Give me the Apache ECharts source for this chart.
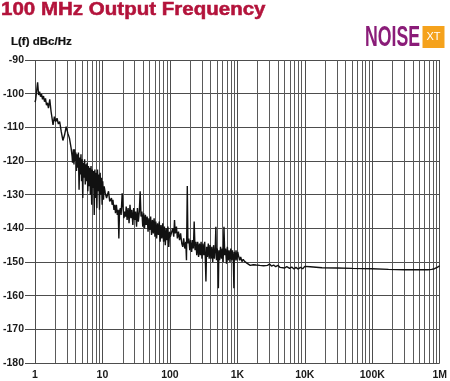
<!DOCTYPE html>
<html>
<head>
<meta charset="utf-8">
<script src="https://cdn.jsdelivr.net/npm/echarts@6/dist/echarts.min.js"></script>
<style>
html,body{margin:0;padding:0;background:#fff;}
#chart{width:450px;height:381px;}
</style>
</head>
<body>
<div id="chart"></div>
<script>
// ---- data ----
const freqs = [
  1.0, 1.02, 1.093, 1.13, 1.169, 1.208, 1.25, 1.293, 1.337, 1.383, 1.43, 1.479, 1.53, 1.582, 1.655, 1.73, 1.79, 1.85, 1.937, 2.02, 2.12, 2.22, 2.32, 2.45, 2.59, 2.74, 2.9, 3.07, 3.24, 3.43, 3.55,
  3.6, 3.7, 3.78, 3.86, 3.95, 4.03, 4.12, 4.2, 4.3, 4.4, 4.5, 4.6, 4.7, 4.8, 4.9, 5.0, 5.1, 5.2, 5.32, 5.44, 5.56, 5.68, 5.8, 5.93, 6.06, 6.2, 6.34, 6.48, 6.62, 6.77, 6.92, 7.07, 7.23, 7.39, 7.55, 7.72, 7.9, 8.08, 8.26, 8.45, 8.64, 8.84, 9.04, 9.24, 9.45, 9.67, 9.89, 10.1, 10.35, 10.6, 11.0,
  11.5, 11.8, 12.3, 12.8, 13.2, 13.6, 13.9, 14.3, 14.8, 15.2, 15.6, 16.1, 16.6, 17.1, 17.5, 17.9, 18.4, 18.9, 19.6, 20.2, 20.8, 21.4, 22.0,
  22.5, 23.2, 24.0, 24.8, 25.6, 26.4, 27.3, 28.2, 29.1, 30.0, 31.0, 32.0, 33.0, 34.0, 35.2, 36.2, 37.3, 38.4, 39.6, 40.8, 42.0, 43.3, 44.6, 46.0, 47.4, 48.8, 50.3, 51.8, 53.4, 55.0, 56.6, 58.3, 60.0, 61.8, 63.6, 65.5, 67.5, 69.5, 71.6, 73.7, 75.9, 78.2, 80.5, 82.9, 85.4, 88.0, 90.6, 93.3, 96.1, 99.0,
  101.5, 105, 110, 114, 117, 120, 125, 129, 134, 139, 144, 150, 155, 160, 166, 172, 176, 181, 185, 191, 197, 203, 210, 217, 223, 229, 236, 243, 250, 258, 266, 274, 282, 290, 299, 308, 318, 328, 335, 342, 350, 360, 371, 382, 394, 406, 418, 431, 444, 457, 470, 480, 490, 503, 515, 523, 532, 546, 563, 580, 597, 615, 633, 650, 670, 690, 711, 732, 754, 777, 800, 824, 848, 873, 888, 900, 927, 955, 984, 1013, 1045,
  1080, 1120, 1170, 1220, 1280, 1330, 1400, 1470, 1550, 1640, 1720, 1800, 1900, 2000, 2150, 2300, 2450, 2600, 2800, 3000, 3200, 3450, 3700, 4000, 4300, 4600, 5000, 5400, 5950, 6400, 6900, 7400, 8000, 8600, 9300, 9700, 10000,
  12000, 18000, 30000, 50000, 100000, 174000, 300000, 500000, 667000, 760000, 836000, 920000, 1000000
];
const levels = [
  -102.5, -101.9, -96.6, -100.4, -99.4, -100.9, -100.1, -101.7, -100.7, -102.4, -101.4, -103.4, -102.7, -104.3, -101.7, -105.3, -107.3, -109.3, -106.8, -108.3, -107.3, -109, -108.3, -111.3, -113.9, -112.3, -109.8, -111.8, -113.2, -116.2, -118.7,
  -120.5, -116.5, -121, -116.5, -120, -117.5, -123, -118, -122, -117.5, -128.5, -119, -124, -118, -126, -119.5, -131, -120.5, -125, -119.5, -127, -121, -126, -120.5, -129, -121.5, -127.5, -122, -130, -121.5, -133, -122.5, -128, -123, -136, -122.5, -131, -123.5, -134, -122.5, -129, -124, -134.5, -123.5, -130, -125, -133, -126, -131.5, -127.5, -129.5,
  -131, -130.6, -129, -132, -132.5, -131, -133, -131.5, -134.5, -133, -135.5, -133, -136, -134.5, -143, -135, -134, -136, -129.6, -134, -137, -135, -136.5,
  -133.5, -137.5, -134, -138.5, -133, -137, -134.5, -139, -134, -137.5, -135, -139.5, -134, -138, -135, -129, -136.5, -135, -139.5, -135.5, -140, -136, -139, -136.5, -141, -137, -140.5, -136.5, -142, -137.5, -141.5, -137, -142.5, -138, -143, -138.5, -142, -138, -144, -139, -143, -138.5, -144, -139.5, -145, -140, -143.5, -139.5, -145.5, -141,
  -142.5, -143, -140, -142.5, -137.5, -141.5, -139.5, -143, -141, -143.5, -141.5, -144.5, -145.5, -143, -146, -144, -149.5, -127.4, -144.5, -143, -146.5, -143.5, -147, -143.5, -146, -138, -146.5, -144, -148, -144, -148.5, -144.5, -148, -144, -149, -144.5, -148, -144, -149, -155.8, -145.5, -148.5, -144.5, -149, -145, -149, -145.5, -150, -145, -149, -146, -139.5, -149.5, -146, -150, -157.8, -146.5, -149.5, -145.5, -149, -146, -150, -139.5, -148, -146, -150.5, -145.5, -149.5, -146.5, -150, -146, -149.5, -146.5, -150, -157.8, -147, -149.5, -146.5, -149.5, -147, -148.3,
  -149.5, -148.5, -149.9, -149.2, -149.8, -149.4, -150.4, -150, -151, -151.5, -150.8, -150.3, -150.9, -150.5, -151, -150.6, -151.1, -150.7, -151, -150.6, -151.2, -150.9, -151.4, -151, -151.6, -151.2, -151.8, -151.4, -151.9, -151.5, -152.1, -151.6, -152.1, -151.6, -152, -151.5, -151.3,
  -151.4, -151.7, -151.8, -151.9, -152.0, -152.2, -152.3, -152.3, -152.3, -152.2, -152.0, -151.6, -151.1
];
const xTickValues = [1, 10, 100, 1000, 10000, 100000, 1000000];
const xTickLabels = ['1', '10', '100', '1K', '10K', '100K', '1M'];
const minorGridFreqs = [
  2, 3, 4, 5, 6, 7, 8, 9,
  20, 30, 40, 50, 60, 70, 80, 90,
  200, 300, 400, 500, 600, 700, 800, 900,
  2000, 3000, 4000, 5000, 6000, 7000, 8000, 9000,
  20000, 30000, 40000, 50000, 60000, 70000, 80000, 90000,
  200000, 300000, 400000, 500000, 600000, 700000, 800000, 900000
];
const titleText = '100 MHz Output Frequency';
const yAxisTitle = 'L(f) dBc/Hz';

// ---- chart ----
const chart = echarts.init(document.getElementById('chart'), null, {renderer: 'canvas'});
const pts = freqs.map((f, i) => [f, levels[i]]);
const labelOf = v => {
  for (let i = 0; i < xTickValues.length; i++) {
    if (Math.abs(Math.log10(v) - Math.log10(xTickValues[i])) < 1e-6) return xTickLabels[i];
  }
  return '';
};
const gridColor = '#4d4d4d';
const font = '"Liberation Sans", Arial, Helvetica, sans-serif';

chart.setOption({
  animation: false,
  backgroundColor: '#ffffff',
  grid: {left: 31.7, top: 60, width: 410.8, height: 303.3, containLabel: false},
  xAxis: {
    type: 'log', logBase: 10, min: 1, max: 1000000,
    axisLine: {show: false},
    axisTick: {show: false},
    splitLine: {show: true, lineStyle: {color: gridColor, width: 1}},
    minorTick: {show: false},
    axisLabel: {
      show: true, margin: 7, color: '#1a1a1a', fontWeight: 'bold', fontSize: 10.5, fontFamily: font,
      formatter: v => labelOf(v), showMinLabel: true, showMaxLabel: true
    }
  },
  yAxis: {
    type: 'value', min: -180, max: -90, interval: 10,
    axisLine: {show: false},
    axisTick: {show: true, length: 10, inside: false, lineStyle: {color: gridColor, width: 1}},
    splitLine: {show: true, lineStyle: {color: gridColor, width: 1}},
    axisLabel: {show: true, margin: 11, color: '#1a1a1a', fontWeight: 'bold', fontSize: 10.5, fontFamily: font}
  },
  series: [
    {
      type: 'line', data: [], z: 1, silent: true,
      markLine: {
        silent: true, z: 1, animation: false,
        symbol: ['none', 'none'],
        label: {show: false},
        emphasis: {disabled: true},
        lineStyle: {color: '#5a5a5a', width: 1, type: 'solid'},
        data: minorGridFreqs.map(v => ({xAxis: v}))
      }
    },
    {
      type: 'line', data: pts, z: 3, silent: true,
      showSymbol: false, symbol: 'none',
      lineStyle: {color: '#111111', width: 1.4},
      emphasis: {disabled: true}
    }
  ],
  graphic: [
    {type: 'text', x: 1, y: 1.5, scaleX: 1.14, silent: true,
     style: {text: titleText, fill: '#b3133b', stroke: '#b3133b', lineWidth: 0.5, fontSize: 18, fontWeight: 'bold', fontFamily: font, align: 'left', verticalAlign: 'top'}},
    {type: 'text', x: 11, y: 42.5, scaleX: 1.15, silent: true,
     style: {text: yAxisTitle, fill: '#111111', stroke: '#111111', lineWidth: 0.2, fontSize: 10, fontWeight: 'bold', fontFamily: font, align: 'left', verticalAlign: 'middle'}},
    {type: 'text', x: 365, y: 37.5, scaleX: 0.59, silent: true,
     style: {text: 'NOISE', fill: '#8a1c78', fontSize: 30, fontWeight: 'bold', fontFamily: font, align: 'left', verticalAlign: 'middle'}},
    {type: 'rect', silent: true, shape: {x: 422.5, y: 26, width: 22, height: 22}, style: {fill: '#f5a21c'}},
    {type: 'text', x: 433.5, y: 36.5, silent: true,
     style: {text: 'XT', fill: '#ffffff', fontSize: 11, fontFamily: font, align: 'center', verticalAlign: 'middle'}}
  ]
});
</script>
</body>
</html>
